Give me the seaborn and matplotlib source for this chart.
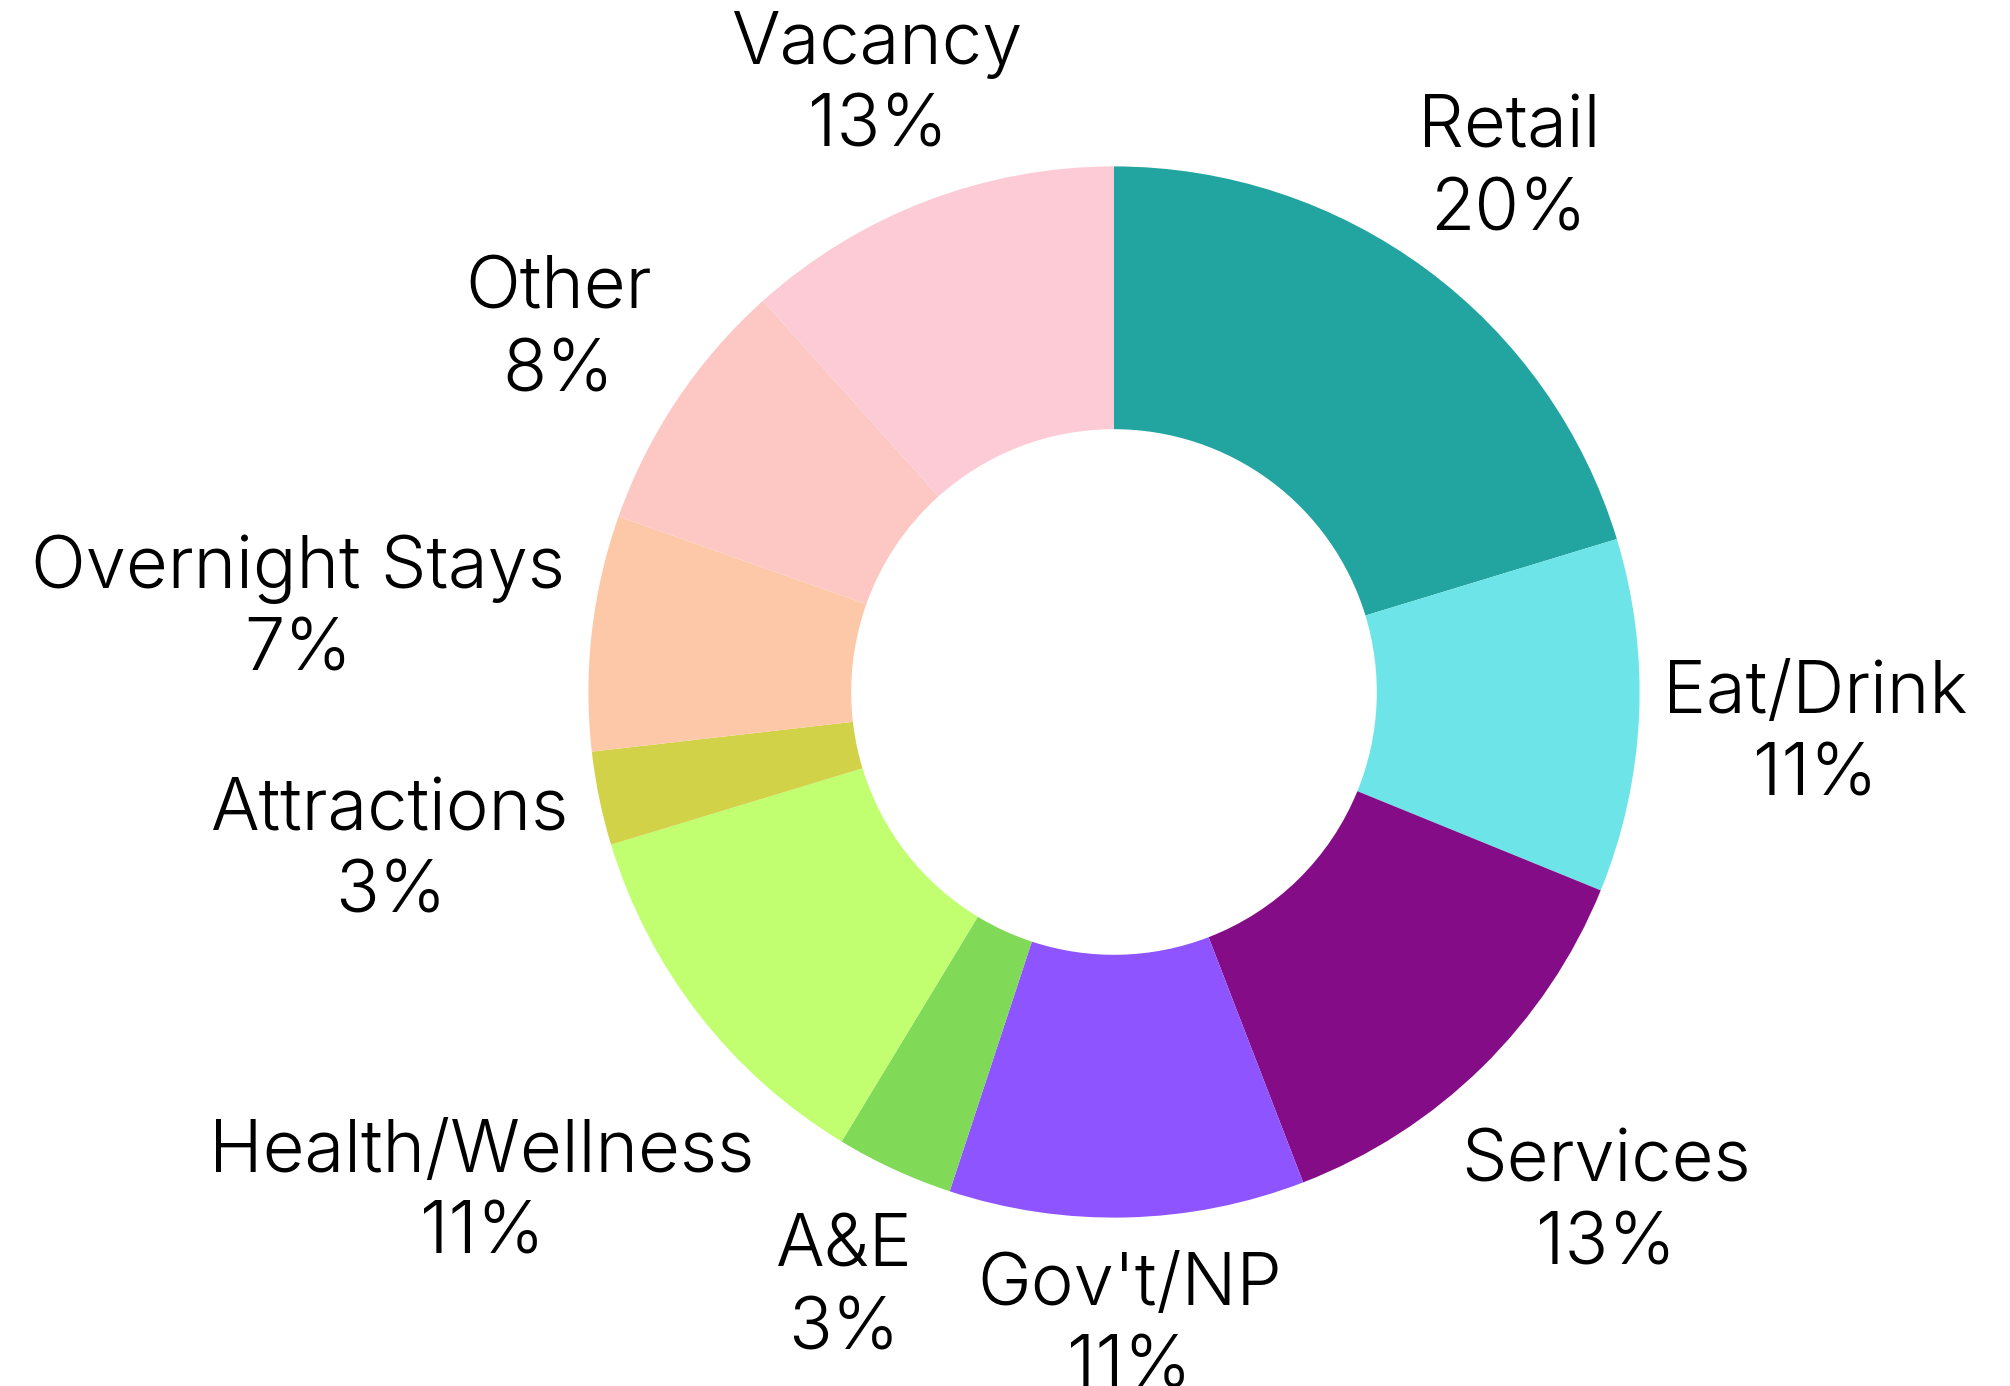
import matplotlib
matplotlib.use("Agg")
import matplotlib.pyplot as plt
import numpy as np
import seaborn as sns

# data (clockwise from 12 o'clock)
categories = [
    "Retail",
    "Eat/Drink",
    "Services",
    "Gov't/NP",
    "A&E",
    "Health/Wellness",
    "Attractions",
    "Overnight Stays",
    "Other",
    "Vacancy",
]
shares = [20.3, 10.86, 12.98, 10.92, 3.61, 11.64, 2.88, 7.23, 7.94, 11.64]
pct_labels = [20, 11, 13, 11, 3, 11, 3, 7, 8, 13]

colors = [
    "#22a5a0",
    "#6de5e8",
    "#850c87",
    "#8e54ff",
    "#80d957",
    "#c1ff70",
    "#d2d248",
    "#fdc8a8",
    "#fdc8c4",
    "#fccbd6",
]

sns.set_theme(style="white")
plt.rcParams["font.family"] = ["Inter", "DejaVu Sans"]

W, H = 2010, 1386
CX, CY, R = 1114, 692, 525.6  # donut centre and outer radius in pixels

fig = plt.figure(figsize=(W / 100, H / 100), dpi=100)
ax = fig.add_axes([0, 0, 1, 1])

wedges, _ = ax.pie(
    shares,
    colors=sns.color_palette(colors),
    startangle=90,
    counterclock=False,
    wedgeprops=dict(width=0.5, linewidth=0),
)

ax.set_xlim(-CX / R, (W - CX) / R)
ax.set_ylim(-(H - CY) / R, CY / R)
ax.set_aspect("equal")
ax.axis("off")

# outside labels: centred on the mid-angle ray, pushed out until the
# text box just clears a circle slightly bigger than the donut
fig.canvas.draw()
renderer = fig.canvas.get_renderer()
gap = 1.045
drop = 11 / R  # text bbox sits a bit high compared to the glyphs
for w, name, p in zip(wedges, categories, pct_labels):
    theta = np.deg2rad((w.theta1 + w.theta2) / 2)
    ux, uy = np.cos(theta), np.sin(theta)
    t = ax.text(
        0, 0, f"{name}\n{p}%",
        ha="center", va="center", multialignment="center",
        fontsize=52, fontweight=300, linespacing=1.27, color="black",
    )
    bb = t.get_window_extent(renderer)
    hw, hh = bb.width / 2 / R, bb.height / 2 / R
    lo, hi = 0.5, 3.0
    for _ in range(50):
        d = (lo + hi) / 2
        x, y = d * ux, d * uy
        px = np.clip(0, x - hw, x + hw)
        py = np.clip(0, y - hh, y + hh)
        if np.hypot(px, py) < gap:
            lo = d
        else:
            hi = d
    t.set_position((d * ux, d * uy - drop))

fig.savefig("out.png", dpi=100, facecolor="white")
